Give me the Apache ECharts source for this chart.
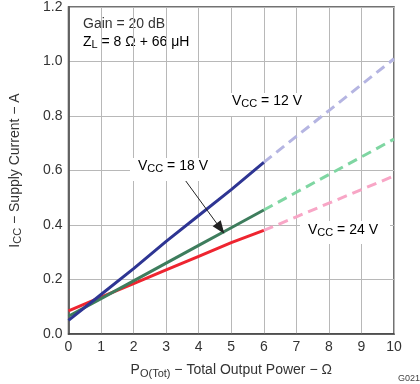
<!DOCTYPE html>
<html><head><meta charset="utf-8">
<script src="https://cdn.jsdelivr.net/npm/echarts@6/dist/echarts.min.js"></script>
<style>html,body{margin:0;padding:0;background:#fff}#c{width:420px;height:384px}</style>
</head><body><div id="c"></div>
<script>
var xSolid = [0,1,2,3,4,5,6];
var xDash = [6,7,8,9,10];
var vcc12Solid = [0.05,0.145,0.24,0.34,0.435,0.53,0.63];
var vcc12Dash = [0.63,0.725,0.82,0.915,1.01];
var vcc18Solid = [0.065,0.13,0.195,0.26,0.325,0.39,0.455];
var vcc18Dash = [0.455,0.52,0.585,0.65,0.715];
var vcc24Solid = [0.085,0.135,0.185,0.235,0.285,0.335,0.38];
var vcc24Dash = [0.38,0.43,0.48,0.53,0.58];
var arrowFrom = [3.6,0.562];
var arrowTo = [4.67,0.387];

function pairs(xs, ys){ return xs.map(function(x,i){return [x, ys[i]];}); }
var F = 'Liberation Sans, Arial, sans-serif';
var rich = {
  a:{fontSize:14,color:'#333',fontFamily:F,lineHeight:17,verticalAlign:'middle'},
  s:{fontSize:11,color:'#333',fontFamily:F,lineHeight:7,verticalAlign:'bottom'}
};
function line(data,color,dashed,extra){
  var o={type:'line',data:data,symbol:'none',silent:true,animation:false,
    lineStyle:{color:color,width:3,type:dashed?[10,6]:'solid'},z:dashed?2:3};
  for(var k in extra) o[k]=extra[k];
  return o;
}
var chart = echarts.init(document.getElementById('c'));
chart.setOption({
  animation:false,
  grid:{left:64,right:26,top:5,bottom:50,show:true,borderColor:'#444',borderWidth:1.5},
  xAxis:{type:'value',min:0,max:10,interval:1,
    axisLine:{show:true,lineStyle:{color:'#444',width:1.5}},axisTick:{show:false},
    axisLabel:{color:'#333',fontSize:14,fontFamily:F,margin:6},
    splitLine:{show:true,lineStyle:{color:'#b8b8b8',width:1}},
    name:'{a|P}{s|O(Tot)}{a| − Total Output Power − Ω}',nameLocation:'middle',nameGap:28,
    nameTextStyle:{rich:rich}},
  yAxis:{type:'value',min:0,max:1.2,interval:0.2,
    axisLine:{show:true,lineStyle:{color:'#444',width:1.5}},axisTick:{show:false},
    axisLabel:{color:'#333',fontSize:14,fontFamily:F,margin:6,formatter:function(v){return v.toFixed(1);}},
    splitLine:{show:true,lineStyle:{color:'#b8b8b8',width:1}},
    name:'{a|I}{s|CC}{a| − Supply Current − A}',nameLocation:'middle',nameGap:45,nameRotate:90,
    nameTextStyle:{rich:rich}},
  series:[
    line(pairs(xDash,vcc12Dash),'#b5b5e2',true),
    line(pairs(xDash,vcc18Dash),'#7fd6a2',true),
    line(pairs(xDash,vcc24Dash),'#f8a6c6',true),
    line(pairs(xSolid,vcc24Solid),'#ee2530',false),
    line(pairs(xSolid,vcc18Solid),'#3e7d5d',false,{
      markLine:{silent:true,symbol:['none','triangle'],symbolSize:[10,13],animation:false,
        lineStyle:{color:'#222',width:1,type:'solid'},label:{show:false},
        data:[[{coord:arrowFrom},{coord:arrowTo}]]}}),
    line(pairs(xSolid,vcc12Solid),'#2e3593',false)
  ],
  graphic:[
    {type:'text',left:83,top:17,style:{text:'Gain = 20 dB',font:'14px '+F,fill:'#333'}},
    {type:'text',left:83,top:35,style:{text:'{a|Z}{s|L}{a| = 8 Ω + 66 μH}',rich:rich}},
    {type:'rect',shape:{x:223,y:93,width:90,height:23},style:{fill:'#fff'},z:10},
    {type:'text',left:232,top:94,z:11,style:{text:'{a|V}{s|CC}{a| = 12 V}',rich:rich}},
    {type:'rect',shape:{x:130,y:158,width:90,height:23},style:{fill:'#fff'},z:10},
    {type:'text',left:138,top:159,z:11,style:{text:'{a|V}{s|CC}{a| = 18 V}',rich:rich}},
    {type:'rect',shape:{x:300,y:221,width:90,height:23},style:{fill:'#fff'},z:10},
    {type:'text',left:308,top:223,z:11,style:{text:'{a|V}{s|CC}{a| = 24 V}',rich:rich}},
    {type:'text',right:0,top:374,style:{text:'G021',font:'9px '+F,fill:'#444'}}
  ]
});
</script></body></html>
